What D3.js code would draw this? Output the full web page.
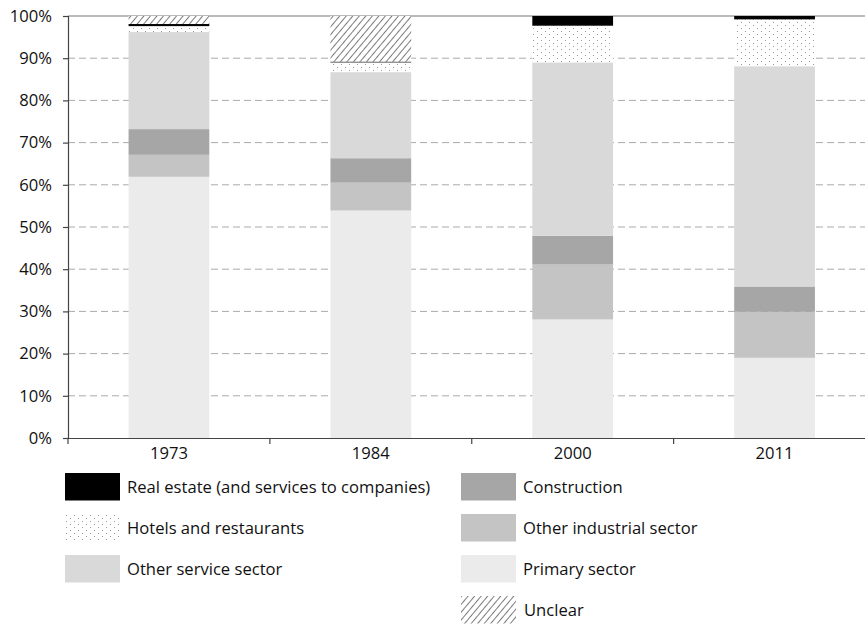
<!DOCTYPE html>
<html><head><meta charset="utf-8">
<script src="https://cdn.jsdelivr.net/npm/d3@7"></script>
<style>body{margin:0;background:#fff}svg{display:block;font-family:"Open Sans",sans-serif}</style>
</head><body><svg id="c" width="865" height="624"></svg>
<script>
const years = ["1973","1984","2000","2011"];
const primary      = [61.9, 53.9, 28.1, 19.0];
const otherInd     = [5.2, 6.6, 13.0, 10.9];
const construction = [6.1, 5.8, 6.8, 6.0];
const otherService = [23.0, 20.4, 41.1, 52.2];
const hotels       = [1.4, 2.3, 8.7, 11.1];
const realEstate   = [0.5, 0.2, 2.3, 0.8];
const unclear      = [1.9, 10.8, 0, 0];
const yTicks = [0,10,20,30,40,50,60,70,80,90,100];

const seriesKeys = ["primary","otherInd","construction","otherService","hotels","realEstate","unclear"];
const seriesVals = {primary, otherInd, construction, otherService, hotels, realEstate, unclear};
const labels = {
  realEstate:"Real estate (and services to companies)", hotels:"Hotels and restaurants",
  otherService:"Other service sector", construction:"Construction",
  otherInd:"Other industrial sector", primary:"Primary sector", unclear:"Unclear"
};
const fills = {
  primary:"#ebebeb", otherInd:"#c4c4c4", construction:"#a6a6a6", otherService:"#d9d9d9",
  hotels:"url(#dots)", realEstate:"#000", unclear:"url(#hatch)"
};
const FS = 16.6;

const rows = years.map((yr,i)=>{const o={year:yr}; seriesKeys.forEach(k=>o[k]=seriesVals[k][i]); return o;});
const stacked = d3.stack().keys(seriesKeys)(rows);

const svg = d3.select("#c");
const defs = svg.append("defs");
const dp = defs.append("pattern").attr("id","dots").attr("patternUnits","userSpaceOnUse")
  .attr("width",8).attr("height",6);
dp.append("rect").attr("width",8).attr("height",6).attr("fill","#fff");
dp.append("rect").attr("x",1).attr("y",1).attr("width",1).attr("height",1).attr("fill","#999");
dp.append("rect").attr("x",5).attr("y",4).attr("width",1).attr("height",1).attr("fill","#999");
const hp = defs.append("pattern").attr("id","hatch").attr("patternUnits","userSpaceOnUse")
  .attr("width",5).attr("height",5).attr("patternTransform","rotate(40)");
hp.append("rect").attr("width",5).attr("height",5).attr("fill","#fff");
hp.append("line").attr("x1",0).attr("y1",0).attr("x2",0).attr("y2",5).attr("stroke","#333").attr("stroke-width",1.3);
const hp2 = defs.append("pattern").attr("id","hatchLegend").attr("patternUnits","userSpaceOnUse")
  .attr("width",5).attr("height",5).attr("patternTransform","rotate(40)");
hp2.append("line").attr("x1",0).attr("y1",0).attr("x2",0).attr("y2",5).attr("stroke","#333").attr("stroke-width",1.3);

const mLeft = 68, mTop = 16, mBottom = 438, mRight = 875.5;
const x = d3.scaleBand().domain(years).range([mLeft,mRight]).paddingInner(0.6).paddingOuter(0.3);
const y = d3.scaleLinear().domain([0,100]).range([mBottom,mTop]);

// gridlines
svg.append("g").selectAll("line").data(yTicks.filter(t=>t>0 && t<100)).join("line")
  .attr("x1",mLeft).attr("x2",865).attr("y1",d=>y(d)).attr("y2",d=>y(d))
  .attr("stroke","#aaa").attr("stroke-width",1).attr("stroke-dasharray","7,4");
svg.append("line").attr("x1",mLeft).attr("x2",865).attr("y1",y(100)).attr("y2",y(100))
  .attr("stroke","#777").attr("stroke-width",1.2);

// bars
svg.append("g").selectAll("g").data(stacked).join("g")
  .attr("fill",d=>fills[d.key])
  .selectAll("rect").data(d=>d).join("rect")
  .attr("x",d=>x(d.data.year)).attr("width",x.bandwidth())
  .attr("y",d=>y(d[1])).attr("height",d=>Math.max(0,y(d[0])-y(d[1])));

// y axis
const ya = svg.append("g").attr("transform",`translate(${mLeft},0)`)
  .call(d3.axisLeft(y).tickValues(yTicks).tickFormat(d=>d+"%").tickSize(5).tickPadding(11));
ya.select(".domain").attr("stroke","#444").attr("stroke-width",1.2);
ya.selectAll(".tick line").attr("stroke","#444").attr("stroke-width",1.2);
ya.selectAll("text").attr("font-size",FS).attr("fill","#111").attr("font-family","'Open Sans',sans-serif");

// x axis
const xa = svg.append("g").attr("transform",`translate(0,${mBottom})`)
  .call(d3.axisBottom(x).tickSize(0).tickPadding(9));
xa.select(".domain").attr("stroke","#444").attr("stroke-width",1.2);
xa.selectAll("text").attr("font-size",FS).attr("fill","#111").attr("font-family","'Open Sans',sans-serif");
const step = x.step();
const bounds = [x(years[0]) - step*x.paddingOuter()].concat(years.map(d=>x(d)+x.bandwidth()/2+step/2));
xa.selectAll(".bnd").data(bounds).join("line").attr("class","bnd")
  .attr("x1",d=>d).attr("x2",d=>d).attr("y1",0).attr("y2",6).attr("stroke","#444").attr("stroke-width",1.2);

// legend
const col1 = ["realEstate","hotels","otherService"];
const col2 = ["construction","otherInd","primary","unclear"];
const legend = svg.append("g");
[[col1,65],[col2,461]].forEach(([keys,lx])=>{
  keys.forEach((k,i)=>{
    const g = legend.append("g").attr("transform",`translate(${lx},${473+i*41})`);
    g.append("rect").attr("width",55).attr("height",27.5)
      .attr("fill", k==="unclear" ? "url(#hatchLegend)" : fills[k]);
    g.append("text").attr("x",k==="unclear"?63:62).attr("y",13.75).attr("dy","0.35em")
      .attr("font-size",FS).attr("fill","#111").text(labels[k]);
  });
});
</script></body></html>
